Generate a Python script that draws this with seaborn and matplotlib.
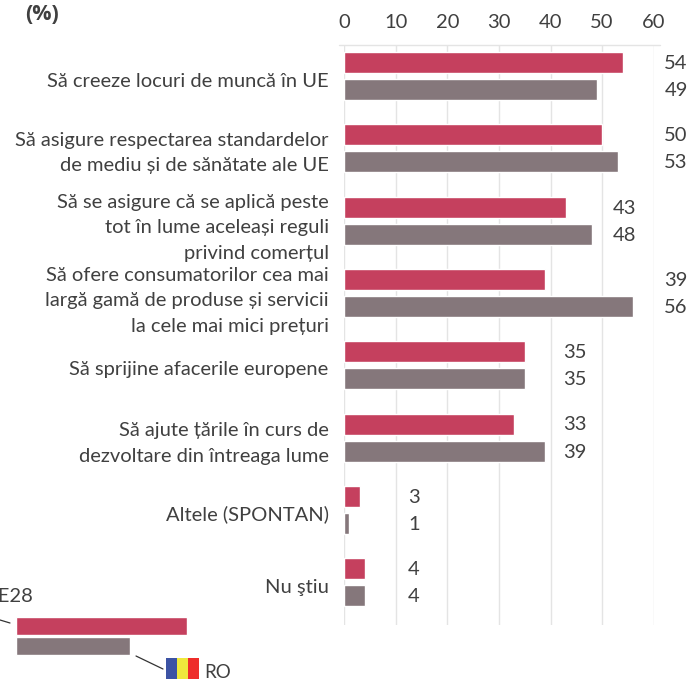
import matplotlib
matplotlib.use("Agg")
import matplotlib.pyplot as plt
from matplotlib.lines import Line2D
from matplotlib.patches import Rectangle
from matplotlib.transforms import ScaledTranslation
import pandas as pd
import seaborn as sns

categories = [
    "Să creeze locuri de muncă în UE",
    "Să asigure respectarea standardelor\nde mediu și de sănătate ale UE",
    "Să se asigure că se aplică peste\ntot în lume aceleași reguli\nprivind comerțul",
    "Să ofere consumatorilor cea mai\nlargă gamă de produse și servicii\nla cele mai mici prețuri",
    "Să sprijine afacerile europene",
    "Să ajute țările în curs de\ndezvoltare din întreaga lume",
    "Altele (SPONTAN)",
    "Nu ştiu",
]
eu28 = [54, 50, 43, 39, 35, 33, 3, 4]
ro = [49, 53, 48, 56, 35, 39, 1, 4]
ticks = [0, 10, 20, 30, 40, 50, 60]
series_names = ["UE28", "RO"]
key_values = [54, 36]

label_column = [676, 676, 625, 676, 575, 575, 414, 414]  # pixel centres of value labels
label_shift = [4, -1, 1.5, 2, 3, 0, 3, 4]  # downward pixel shift of category labels

RED = "#c5405e"
GREY = "#85777b"
TEXT = "#404040"
GRID = "#e4e4e4"
W, H = 689, 679

sns.set_theme(style="white")
plt.rcParams["font.family"] = ["Lato", "DejaVu Sans"]

df = pd.DataFrame({
    "cat": categories * 2,
    "val": eu28 + ro,
    "ser": [series_names[0]] * 8 + [series_names[1]] * 8,
})

fig = plt.figure(figsize=(W / 100, H / 100), dpi=100, facecolor="white")


def box(x0, y0, x1, y1):
    return [x0 / W, 1 - y1 / H, (x1 - x0) / W, (y1 - y0) / H]


ax = fig.add_axes(box(344.3, 45, 653.7, 625))
ax.set_axisbelow(True)
sns.barplot(data=df, y="cat", x="val", hue="ser", order=categories,
            palette=[RED, GREY], width=0.747, gap=0.22, legend=False,
            saturation=1, ax=ax, zorder=3)
ax.set_xlim(0, 60)
ax.set_ylim(7.59, -0.43)
ax.set_xlabel("")
ax.set_ylabel("")
ax.xaxis.tick_top()
ax.set_xticks(ticks)
ax.xaxis.grid(True, color=GRID, lw=1)
ax.tick_params(axis="x", length=0, pad=10, labelsize=14.5, labelcolor=TEXT)
ax.tick_params(axis="y", length=0, pad=11.2, labelsize=14.5, labelcolor=TEXT)
for lbl, dy in zip(ax.get_yticklabels(), label_shift):
    lbl.set_linespacing(1.6)
    lbl.set_transform(lbl.get_transform()
                      + ScaledTranslation(0, -dy / 100, fig.dpi_scale_trans))
for s in ax.spines.values():
    s.set_visible(False)
fig.add_artist(Line2D([339 / W, 660 / W], [1 - 45 / H] * 2, color=GRID, lw=1))

for i, (a, b, px) in enumerate(zip(eu28, ro, label_column)):
    xd = px / W
    top = 1 - (63.5 + i * 72.3) / H
    bot = 1 - (90.5 + i * 72.3) / H
    fig.text(xd, top, str(a), ha="center", va="center", fontsize=14.5, color=TEXT)
    fig.text(xd, bot, str(b), ha="center", va="center", fontsize=14.5, color=TEXT)

fig.text(25 / W, 1 - 15 / H, "(%)", fontsize=15.5, fontweight="bold", color=TEXT,
         family="Open Sans", ha="left", va="center")

# Key
key = fig.add_axes(box(15.6, 615.5, 187, 656.5))
sns.barplot(y=series_names, x=key_values, hue=series_names, palette=[RED, GREY],
            width=0.88, legend=False, saturation=1, ax=key)
key.set_xlim(0, 54)
key.axis("off")
fig.text(-17 / W, 1 - 597 / H, "UE28", fontsize=14.5, color=TEXT, ha="left", va="center")
fig.text(204 / W, 1 - 672 / H, "RO", fontsize=13.5, color=TEXT, ha="left", va="center")
fig.add_artist(Line2D([0, 10 / W], [1 - 620 / H, 1 - 623 / H], color="#333333", lw=0.9))
fig.add_artist(Line2D([136 / W, 163 / W], [1 - 656 / H, 1 - 669 / H], color="#333333", lw=0.9))
for x0, c in zip((166, 177, 188), ("#3c53a4", "#efe93c", "#ee2d2a")):
    fig.add_artist(Rectangle((x0 / W, 0), 10.7 / W, 21 / H, transform=fig.transFigure,
                             facecolor=c, edgecolor="none"))

fig.savefig("out.png", dpi=100)
